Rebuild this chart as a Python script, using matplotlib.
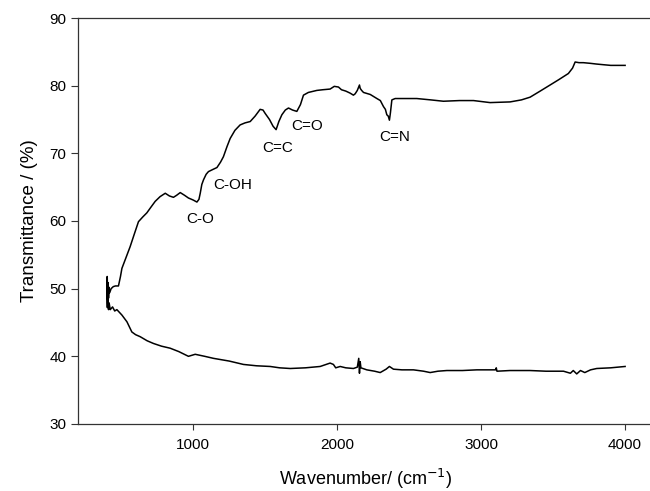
import matplotlib
matplotlib.use('Agg')
import matplotlib.pyplot as plt

# upper spectrum
wn_top = [400, 403, 406, 409, 412, 416, 420, 430, 445, 460, 481, 495, 505, 530, 562, 590,
          620, 650, 678, 705, 736, 770, 806, 835, 863, 885, 910, 940, 967, 1000, 1026,
          1040, 1049, 1060, 1072, 1090, 1106, 1135, 1165, 1190, 1210, 1235, 1257, 1290,
          1326, 1360, 1396, 1430, 1465, 1485, 1500, 1530, 1555, 1576, 1595, 1616, 1640,
          1662, 1690, 1720, 1745, 1766, 1800, 1859, 1900, 1951, 1980, 2009, 2030, 2060,
          2090, 2113, 2125, 2140, 2155, 2160, 2170, 2183, 2230, 2276, 2300, 2322, 2335,
          2345, 2355, 2363, 2370, 2380, 2403, 2480, 2553, 2650, 2738, 2850, 2947, 3062,
          3201, 3280, 3340, 3410, 3479, 3540, 3606, 3635, 3653, 3680, 3710, 3760, 3800,
          3849, 3900, 3950, 4000]
t_top = [48.5, 51.8, 47.8, 50.9, 48.6, 50.2, 49.4, 50.0, 50.3, 50.4, 50.4, 51.8, 53.0, 54.4,
         56.2, 58.0, 59.9, 60.6, 61.2, 62.0, 62.9, 63.6, 64.1, 63.7, 63.5, 63.8, 64.2,
         63.8, 63.4, 63.1, 62.8, 63.2, 64.1, 65.4, 66.1, 66.9, 67.3, 67.6, 67.9, 68.7,
         69.5, 71.0, 72.2, 73.4, 74.2, 74.5, 74.7, 75.5, 76.5, 76.4, 75.9, 75.0, 74.0,
         73.5, 74.7, 75.7, 76.4, 76.7, 76.4, 76.2, 77.2, 78.6, 79.0, 79.3, 79.4, 79.5,
         79.9, 79.8, 79.4, 79.2, 78.9, 78.6, 78.8, 79.3, 80.1, 79.6, 79.3, 79.0, 78.7,
         78.1, 77.8, 76.9, 76.5, 75.7, 75.5, 74.9, 76.0, 77.9, 78.1, 78.1, 78.1, 77.9,
         77.7, 77.8, 77.8, 77.5, 77.6, 77.9, 78.3, 79.2, 80.1, 80.9, 81.8, 82.6, 83.5,
         83.4, 83.4, 83.3, 83.2, 83.1, 83.0, 83.0, 83.0]

# lower spectrum
wn_bot = [400, 404, 408, 412, 416, 424, 440, 455, 470, 505, 540, 574, 600, 632, 680, 724,
          780, 840, 900, 967, 1014, 1080, 1141, 1250, 1349, 1440, 1535, 1600, 1674, 1780,
          1882, 1951, 1974, 1990, 2021, 2060, 2113, 2140, 2150, 2155, 2160, 2165, 2206,
          2260, 2299, 2340, 2363, 2391, 2450, 2530, 2600, 2646, 2700, 2762, 2870, 2970,
          3100, 3105, 3110, 3200, 3340, 3450, 3572, 3620, 3640, 3664, 3690, 3720, 3760,
          3803, 3900, 4000]
t_bot = [48.5, 47.2, 48.8, 46.9, 47.9, 46.9, 47.3, 46.7, 46.9, 46.1, 45.1, 43.6, 43.2,
         42.9, 42.3, 41.9, 41.5, 41.2, 40.7, 40.0, 40.3, 40.0, 39.7, 39.3, 38.8, 38.6,
         38.5, 38.3, 38.2, 38.3, 38.5, 39.0, 38.8, 38.3, 38.5, 38.3, 38.2, 38.4, 39.7,
         37.5, 39.2, 38.3, 38.0, 37.8, 37.6, 38.1, 38.5, 38.1, 38.0, 38.0, 37.8, 37.6,
         37.8, 37.9, 37.9, 38.0, 38.0, 38.3, 37.8, 37.9, 37.9, 37.8, 37.8, 37.5, 37.9,
         37.4, 37.9, 37.6, 38.0, 38.2, 38.3, 38.5]

# band labels
band_names = ['C-O', 'C-OH', 'C=C', 'C=O', 'C=N']
band_x = [1049, 1276, 1585, 1794, 2403]
band_y = [60.3, 65.3, 70.8, 74.0, 72.4]

plt.rcParams['font.family'] = ['Liberation Sans', 'DejaVu Sans']

fig = plt.figure(figsize=(6.5, 4.91), dpi=100)
ax = fig.add_axes([0.12, 0.1365, 0.886, 0.8268])

ax.plot(wn_top, t_top, color='black', lw=1.1)
ax.plot(wn_bot, t_bot, color='black', lw=1.1)

for name, bx, by in zip(band_names, band_x, band_y):
    ax.text(bx, by, name, ha='center', va='center', fontsize=11)

ax.set_xlim(200, 4200)
ax.set_ylim(30, 90)
ax.set_xticks([1000, 2000, 3000, 4000])
ax.set_yticks([30, 40, 50, 60, 70, 80, 90])
ax.spines['right'].set_visible(False)
for s in ['left', 'bottom', 'top']:
    ax.spines[s].set_color('#333333')
    ax.spines[s].set_linewidth(0.9)
ax.tick_params(direction='out', length=5, width=0.8, labelsize=11, color='#333333')
ax.tick_params(axis='x', length=4, pad=6)

ax.set_xlabel('Wavenumber/ (cm$^{-1}$)', fontsize=13, labelpad=11)
ax.set_ylabel('Transmittance / (%)', fontsize=13.5, labelpad=8)

fig.savefig('out.png', dpi=100)
